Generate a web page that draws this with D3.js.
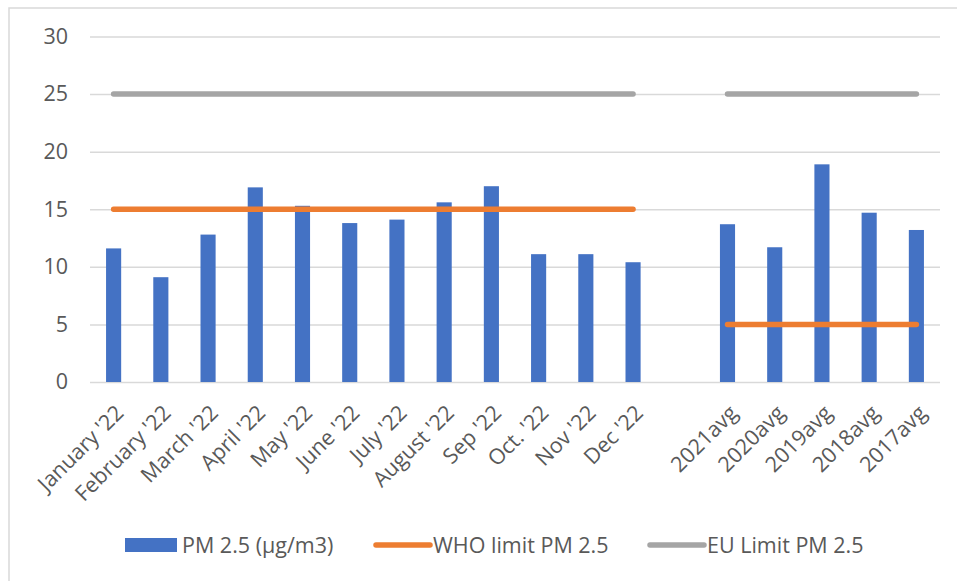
<!DOCTYPE html>
<html>
<head>
<meta charset="utf-8">
<script src="https://cdn.jsdelivr.net/npm/d3@7"></script>
<style>
  html, body { margin: 0; padding: 0; background: #fff; }
  svg { display: block; }
  text { font-family: "Open Sans", "Noto Sans", sans-serif; fill: #595959; }
</style>
</head>
<body>
<svg id="chart" width="957" height="581"></svg>
<script>
// Monthly PM 2.5 readings for 2022, a spacer, then yearly averages
const categories = ["January '22", "February '22", "March '22", "April '22", "May '22", "June '22",
  "July '22", "August '22", "Sep '22", "Oct. '22", "Nov '22", "Dec '22", "",
  "2021avg", "2020avg", "2019avg", "2018avg", "2017avg"];
const pm25 = [11.6, 9.1, 12.8, 16.9, 15.3, 13.8, 14.1, 15.6, 17.0, 11.1, 11.1, 10.4, null,
  13.7, 11.7, 18.9, 14.7, 13.2];
const whoLimit = [15, 15, 15, 15, 15, 15, 15, 15, 15, 15, 15, 15, null, 5, 5, 5, 5, 5];
const euLimit = [25, 25, 25, 25, 25, 25, 25, 25, 25, 25, 25, 25, null, 25, 25, 25, 25, 25];
const yTicks = [0, 5, 10, 15, 20, 25, 30];
const seriesNames = ["PM 2.5 (µg/m3)", "WHO limit PM 2.5", "EU Limit PM 2.5"];

const colors = { bar: "#4472C4", who: "#ED7D31", eu: "#A5A5A5", grid: "#D9D9D9", text: "#595959" };
const fontSize = "21.5px";

const svg = d3.select("#chart");

// chart area border (left and top edges)
svg.append("path")
  .attr("d", "M9,581V8H957")
  .attr("fill", "none")
  .attr("stroke", colors.grid)
  .attr("stroke-width", 1.5);

const x = d3.scaleBand()
  .domain(categories)
  .range([90, 940])
  .paddingInner(0.68)
  .paddingOuter(0.34);

const y = d3.scaleLinear().domain([0, 30]).range([382, 36.5]);

// horizontal gridlines
const yAxis = svg.append("g")
  .attr("transform", "translate(90,0)")
  .call(d3.axisLeft(y).tickValues(yTicks).tickSize(-850).tickPadding(22));
yAxis.select(".domain").remove();
yAxis.selectAll(".tick line").attr("stroke", colors.grid).attr("stroke-width", 1.5);
yAxis.selectAll(".tick text")
  .style("font-size", fontSize)
  .attr("fill", colors.text);

// bars
svg.append("g")
  .selectAll("rect")
  .data(categories.map((c, i) => ({ c, v: pm25[i] })).filter(d => d.v != null))
  .join("rect")
  .attr("x", d => x(d.c))
  .attr("width", x.bandwidth())
  .attr("y", d => y(d.v))
  .attr("height", d => y(0) - y(d.v))
  .attr("fill", colors.bar);

// limit lines
const line = d3.line()
  .defined(d => d.v != null)
  .x(d => x(d.c) + x.bandwidth() / 2)
  .y(d => y(d.v));

[[whoLimit, colors.who], [euLimit, colors.eu]].forEach(([vals, col]) => {
  svg.append("path")
    .datum(categories.map((c, i) => ({ c, v: vals[i] })))
    .attr("d", line)
    .attr("fill", "none")
    .attr("stroke", col)
    .attr("stroke-width", 5.5)
    .attr("stroke-linecap", "round")
    .attr("stroke-linejoin", "round");
});

// category labels, rotated
const xAxis = svg.append("g")
  .attr("transform", "translate(0,382)")
  .call(d3.axisBottom(x).tickSize(0).tickFormat(d => d));
xAxis.select(".domain").remove();
xAxis.selectAll(".tick text")
  .attr("fill", colors.text)
  .style("font-size", fontSize)
  .attr("text-anchor", "end")
  .attr("transform", "translate(6,27) rotate(-45)")
  .attr("x", 0)
  .attr("y", 0)
  .attr("dy", "0.35em");

// legend
const legend = svg.append("g").attr("transform", "translate(0,545)");
const legendItems = [
  { name: seriesNames[0], type: "rect", color: colors.bar, x0: 125 },
  { name: seriesNames[1], type: "line", color: colors.who, x0: 376 },
  { name: seriesNames[2], type: "line", color: colors.eu, x0: 650 }
];
legendItems.forEach(it => {
  if (it.type === "rect") {
    legend.append("rect").attr("x", it.x0).attr("y", -7).attr("width", 52).attr("height", 14).attr("fill", it.color);
  } else {
    legend.append("line").attr("x1", it.x0).attr("x2", it.x0 + 54).attr("y1", 0).attr("y2", 0)
      .attr("stroke", it.color).attr("stroke-width", 5.5).attr("stroke-linecap", "round");
  }
  legend.append("text")
    .attr("x", it.x0 + 57)
    .attr("y", 0)
    .attr("dy", "0.35em")
    .style("font-size", fontSize)
    .text(it.name);
});
</script>
</body>
</html>
